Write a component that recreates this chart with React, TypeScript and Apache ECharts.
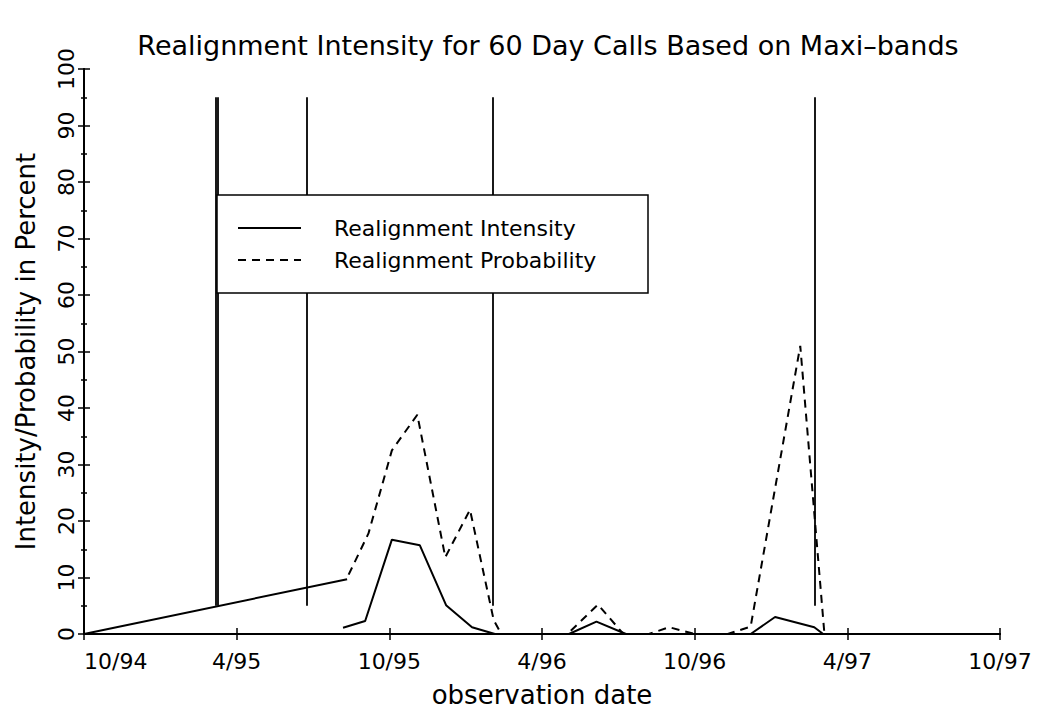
import React, { useEffect, useRef } from "react";
import * as echarts from "echarts";

// x positions are months since October 1994
const xTickLabels = ["10/94", "4/95", "10/95", "4/96", "10/96", "4/97", "10/97"];

const intensityTrendX = [0, 10.34];
const intensityTrendY = [0, 9.7];

const intensityX = [10.18, 11.05, 12.1, 13.2, 14.23, 15.25, 16.15, 19.06, 20.14, 21.3, 26.2, 27.16, 28.7, 29.05];
const intensityY = [1.1, 2.3, 16.7, 15.7, 5.1, 1.2, 0, 0, 2.2, 0, 0, 3.0, 1.2, 0];

const probabilityX = [10.4, 11.18, 12.1, 13.1, 14.2, 15.17, 16.1, 16.4, 19.0, 20.2, 21.2, 22.2, 23.0, 24.0, 25.3, 26.2, 28.15, 29.1];
const probabilityY = [10.5, 17.8, 32.5, 38.8, 13.6, 22, 2.5, 0, 0, 5.2, 0, 0, 1.2, 0, 0, 1.3, 51, 0];

const eventX = [5.17, 5.25, 8.75, 16.08, 28.7];
const eventTop = [95, 95, 95, 95, 95];
const eventBottom = [5, 5, 5, 5, 5];

const FONT = "DejaVu Sans";

const pairs = (xs: number[], ys: number[]) => xs.map((x, i) => [x, ys[i]]);

export default function App() {
  const ref = useRef<HTMLDivElement>(null);
  useEffect(() => {
    if (!ref.current) return;
    const chart = echarts.init(ref.current, undefined, { renderer: "svg" });
    const axisCommon = {
      type: "value" as const,
      splitLine: { show: false },
      axisLine: { show: true, lineStyle: { color: "#000", width: 2 } },
    };
    const tick = { show: true, inside: true, length: 6, lineStyle: { color: "#000", width: 1.5 } };
    const minor = { show: true, splitNumber: 2, length: 3, lineStyle: { color: "#000", width: 1.5 } };
    chart.setOption({
      animation: false,
      backgroundColor: "#fff",
      title: {
        text: "Realignment Intensity for 60 Day Calls Based on Maxi\u2013bands",
        left: 543,
        top: 27,
        textAlign: "center",
        textStyle: { fontFamily: FONT, fontSize: 27, fontWeight: "normal", color: "#000" },
      },
      grid: { left: 84, right: 43, top: 69, bottom: 75 },
      legend: {
        left: 237,
        top: 217,
        orient: "vertical",
        itemWidth: 63,
        itemHeight: 14,
        itemGap: 10,
        padding: 0,
        z: 110,
        itemStyle: { opacity: 0 },
        data: ["Realignment Intensity", "Realignment Probability"],
        textStyle: { fontFamily: FONT, fontSize: 22, color: "#000", padding: [0, 0, 0, 28] },
      },
      graphic: [
        {
          type: "rect",
          z: 100,
          shape: { x: 217, y: 195, width: 431, height: 98 },
          style: { fill: "#fff", stroke: "#000", lineWidth: 1.5 },
        },
      ],
      xAxis: [
        {
          ...axisCommon,
          min: 0,
          max: 36,
          interval: 6,
          position: "bottom",
          axisTick: tick,
          axisLabel: {
            color: "#000",
            fontFamily: FONT,
            fontSize: 22,
            margin: 16,
            alignMinLabel: "left",
            formatter: (v: number) => xTickLabels[Math.round(v / 6)] ?? "",
          },
          name: "observation date",
          nameLocation: "middle",
          nameGap: 48,
          nameTextStyle: { fontFamily: FONT, fontSize: 26, color: "#000" },
        },
        {
          ...axisCommon,
          min: 0,
          max: 36,
          interval: 6,
          position: "top",
          axisTick: tick,
          axisLabel: { show: false },
        },
      ],
      yAxis: [
        {
          ...axisCommon,
          min: 0,
          max: 100,
          interval: 10,
          position: "left",
          axisTick: tick,
          minorTick: minor,
          axisLabel: { color: "#000", fontFamily: FONT, fontSize: 22, rotate: 90, margin: 7 },
          name: "Intensity/Probability in Percent",
          nameLocation: "middle",
          nameGap: 45,
          nameTextStyle: { fontFamily: FONT, fontSize: 26, color: "#000" },
        },
        {
          ...axisCommon,
          min: 0,
          max: 100,
          interval: 10,
          position: "right",
          axisTick: tick,
          minorTick: minor,
          axisLabel: { show: false },
        },
      ],
      series: [
        {
          name: "Realignment Intensity",
          type: "line",
          symbol: "none",
          data: pairs(intensityX, intensityY),
          lineStyle: { color: "#000", width: 2 },
          itemStyle: { color: "#000" },
          markLine: {
            silent: true,
            symbol: "none",
            label: { show: false },
            lineStyle: { color: "#000", width: 1.8, type: "solid" },
            data: eventX.map((x, i) => [{ coord: [x, eventTop[i]] }, { coord: [x, eventBottom[i]] }]),
          },
        },
        {
          name: "Realignment Intensity",
          type: "line",
          symbol: "none",
          data: pairs(intensityTrendX, intensityTrendY),
          lineStyle: { color: "#000", width: 2 },
          itemStyle: { color: "#000" },
        },
        {
          name: "Realignment Probability",
          type: "line",
          symbol: "none",
          data: pairs(probabilityX, probabilityY),
          lineStyle: { color: "#000", width: 2, type: [8, 6] },
          itemStyle: { color: "#000" },
        },
      ],
    });
    return () => chart.dispose();
  }, []);
  return <div ref={ref} style={{ width: 1043, height: 713, margin: -8 }} />;
}
